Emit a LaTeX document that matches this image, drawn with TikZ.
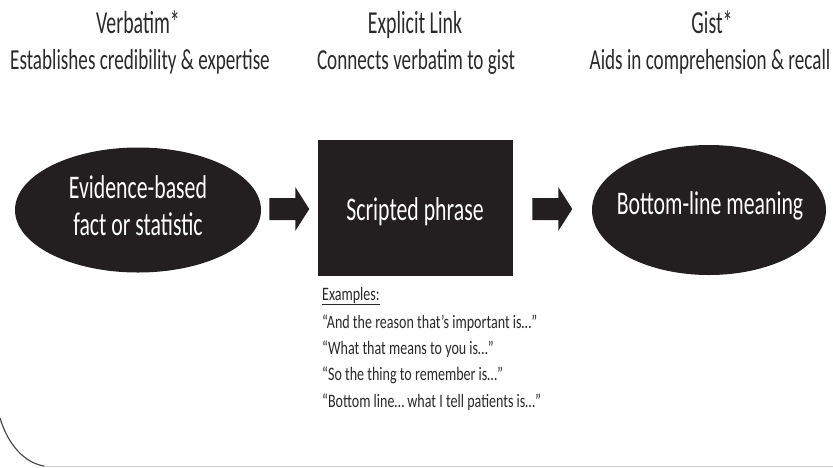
\documentclass[tikz,border=0pt]{standalone}
\usepackage{fontspec}
\setmainfont{Carlito}
\usetikzlibrary{shapes.geometric,calc}
\newfontfamily\headfont[FakeStretch=0.62]{Carlito}
\newfontfamily\subfont[FakeStretch=0.66]{Carlito}
\newfontfamily\blobfont[FakeStretch=0.66]{Carlito}
\newfontfamily\exfont[FakeStretch=0.74]{Carlito}
\definecolor{ink}{HTML}{231F20}
\definecolor{txt}{HTML}{2A2A2A}
\tikzset{
  head/.style={font=\headfont\fontsize{32}{36}\selectfont, text=txt, anchor=base, inner sep=0pt},
  sub/.style={font=\subfont\fontsize{29}{33}\selectfont, text=txt, anchor=base, inner sep=0pt},
  blob/.style={ellipse, fill=ink, inner sep=0pt},
  boxy/.style={rectangle, fill=ink, inner sep=0pt},
  intext/.style={font=\blobfont\fontsize{33}{37}\selectfont, text=white, anchor=base, inner sep=0pt},
  ex/.style={font=\exfont\fontsize{19}{22}\selectfont, text=txt, anchor=base west, inner sep=0pt},
  fatarrow/.style={fill=ink},
}
\begin{document}
\begin{tikzpicture}[x=1pt,y=-1pt]
\useasboundingbox (0,0) rectangle (833,467);
% frame
\draw[gray!35, line width=0.8pt] (44,466) -- (833,466);
\draw[black!70, line width=1.2pt] (0,418) .. controls (8,445) and (25,463) .. (44,466);
% headers
\node[head] (h1) at (138,33) {Verbatim*};
\node[sub] (s1) at (140,69) {Establishes credibility \& expertise};
\node[head] (h2) at (415,33) {Explicit Link};
\node[sub] (s2) at (416,69) {Connects verbatim to gist};
\node[head] (h3) at (712,33) {Gist*};
\node[sub] (s3) at (710,69) {Aids in comprehension \& recall};
% shapes
\node[blob, minimum width=246pt, minimum height=125pt] (e1) at (138,210) {};
\node[boxy, minimum width=195pt, minimum height=136pt] (b) at (415,208) {};
\node[blob, minimum width=234pt, minimum height=130pt] (e2) at (709,210) {};
\node[intext] (t1a) at (138,198) {Evidence-based};
\node[intext] (t1b) at (138,235) {fact or statistic};
\node[intext] (t2) at (415,220) {Scripted phrase};
\node[intext] (t3) at (710,214) {Bottom-line meaning};
% arrows
\coordinate (a1) at ($(e1.east)!0.5!(b.west)+(-20,0)$);
\coordinate (a2) at ($(b.east)!0.5!(e2.west)+(-20,0)$);
\foreach \c in {a1,a2}{
  \fill[fatarrow] (\c) ++(0,-11) -- ++(26,0) -- ++(0,-11) -- ++(14,22) -- ++(-14,22) -- ++(0,-11) -- ++(-26,0) -- cycle;
}
% examples
\node[ex] (x0) at (322,300) {\underline{Examples:}};
\node[ex] (x1) at (322,328) {“And the reason that’s important is…”};
\node[ex] (x2) at (322,354) {“What that means to you is…”};
\node[ex] (x3) at (322,380) {“So the thing to remember is…”};
\node[ex] (x4) at (322,407) {“Bottom line… what I tell patients is…”};
\end{tikzpicture}
\end{document}
